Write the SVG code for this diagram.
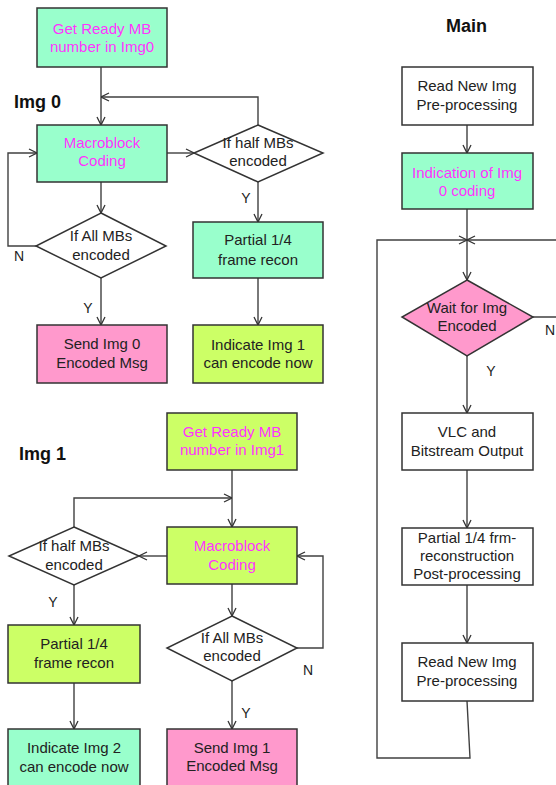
<svg xmlns="http://www.w3.org/2000/svg" width="556" height="785" viewBox="0 0 556 785">
<style>
.box{stroke:#333;stroke-width:1.5}
.mint{fill:#99FFCC}
.lime{fill:#CCFF66}
.pink{fill:#FF99CC}
.white{fill:#FFFFFF}
text{font-family:"Liberation Sans",Arial,sans-serif;font-size:15px;text-anchor:middle;fill:#222}
.mag{fill:#FF33FF}
.title{font-size:18px;font-weight:bold;text-anchor:start;fill:#111}
.lbl{font-size:14px;fill:#222}
.conn path{fill:none;stroke:#404040;stroke-width:1.4;marker-end:url(#arr)}
.conn path.plain{marker-end:none}
</style>
<defs>
<marker id="arr" viewBox="0 0 10 10" refX="10" refY="5" markerWidth="10" markerHeight="10" markerUnits="userSpaceOnUse" orient="auto">
<path d="M2,1 L10,5 L2,9" fill="none" stroke="#333" stroke-width="1.3"/>
</marker>
</defs>
<rect width="556" height="785" fill="#FFFFFF"/>

<text class="title" x="14" y="108">Img 0</text>
<text class="title" x="19" y="460">Img 1</text>
<text class="title" x="446" y="32">Main</text>

<g class="conn" id="connectors">
<path d="M101,67 L101,125"/>
<path d="M258,125 L258,97 L101,97"/>
<path d="M167,153 L194,153"/>
<path d="M101,182 L101,213"/>
<path d="M36,246 L8,246 L8,153 L37,153"/>
<path d="M101,278 L101,325"/>
<path d="M258,182 L258,222"/>
<path d="M258,278 L258,325"/>

<path d="M232,470 L232,527"/>
<path d="M74,527 L74,498 L232,498"/>
<path d="M167,556 L139,556"/>
<path d="M232,584 L232,616"/>
<path d="M297,648 L323,648 L323,556 L297,556"/>
<path d="M232,681 L232,729"/>
<path d="M74,585 L74,625"/>
<path d="M74,683 L74,729"/>

<path d="M467,125 L467,153"/>
<path d="M467,209 L467,280"/>
<path d="M467,701 L470,758 L377,758 L377,240 L467,240"/>
<path d="M533,317 L562,317 L562,240 L467,240"/>
<path d="M467,356 L467,413"/>
<path d="M467,470 L467,528"/>
<path d="M467,585 L467,643"/>
</g>

<g id="labels">
<text class="lbl" x="19" y="261">N</text>
<text class="lbl" x="88" y="313">Y</text>
<text class="lbl" x="246" y="203">Y</text>
<text class="lbl" x="53" y="607">Y</text>
<text class="lbl" x="308" y="675">N</text>
<text class="lbl" x="246" y="718">Y</text>
<text class="lbl" x="550" y="335">N</text>
<text class="lbl" x="491" y="376">Y</text>
</g>

<g id="img0_ready">
<rect class="box mint" x="37" y="8" width="130" height="59"/>
<text class="mag" x="102" y="34">Get Ready MB</text>
<text class="mag" x="102" y="52">number in Img0</text>
</g>
<g id="img0_mb">
<rect class="box mint" x="37" y="125" width="130" height="57"/>
<text class="mag" x="102" y="148">Macroblock</text>
<text class="mag" x="102" y="166">Coding</text>
</g>
<g id="img0_half">
<polygon class="box white" points="258,125 323,153 258,182 194,153"/>
<text x="258" y="148">If half MBs</text>
<text x="258" y="166">encoded</text>
</g>
<g id="img0_all">
<polygon class="box white" points="101,213 166,246 101,278 36,246"/>
<text x="101" y="241">If All MBs</text>
<text x="101" y="260">encoded</text>
</g>
<g id="img0_send">
<rect class="box pink" x="37" y="325" width="130" height="58"/>
<text x="102" y="349">Send Img 0</text>
<text x="102" y="368">Encoded Msg</text>
</g>
<g id="img0_partial">
<rect class="box mint" x="193" y="222" width="130" height="56"/>
<text x="258" y="245">Partial 1/4</text>
<text x="258" y="265">frame recon</text>
</g>
<g id="img0_indicate">
<rect class="box lime" x="193" y="325" width="130" height="58"/>
<text x="258" y="350">Indicate Img 1</text>
<text x="258" y="368">can encode now</text>
</g>

<g id="img1_ready">
<rect class="box lime" x="167" y="413" width="130" height="57"/>
<text class="mag" x="232" y="437">Get Ready MB</text>
<text class="mag" x="232" y="455">number in Img1</text>
</g>
<g id="img1_mb">
<rect class="box lime" x="167" y="527" width="130" height="57"/>
<text class="mag" x="232" y="551">Macroblock</text>
<text class="mag" x="232" y="570">Coding</text>
</g>
<g id="img1_half">
<polygon class="box white" points="74,527 139,556 74,585 9,556"/>
<text x="74" y="551">If half MBs</text>
<text x="74" y="570">encoded</text>
</g>
<g id="img1_all">
<polygon class="box white" points="232,616 297,648 232,681 167,648"/>
<text x="232" y="643">If All MBs</text>
<text x="232" y="661">encoded</text>
</g>
<g id="img1_partial">
<rect class="box lime" x="8" y="625" width="132" height="58"/>
<text x="74" y="649">Partial 1/4</text>
<text x="74" y="668">frame recon</text>
</g>
<g id="img1_indicate">
<rect class="box mint" x="8" y="729" width="132" height="58"/>
<text x="74" y="753">Indicate Img 2</text>
<text x="74" y="772">can encode now</text>
</g>
<g id="img1_send">
<rect class="box pink" x="167" y="729" width="130" height="58"/>
<text x="232" y="753">Send Img 1</text>
<text x="232" y="771">Encoded Msg</text>
</g>

<g id="main_read1">
<rect class="box white" x="402" y="67" width="131" height="58"/>
<text x="467" y="91">Read New Img</text>
<text x="467" y="110">Pre-processing</text>
</g>
<g id="main_indication">
<rect class="box mint" x="402" y="153" width="131" height="56"/>
<text class="mag" x="467" y="178">Indication of Img</text>
<text class="mag" x="467" y="196">0 coding</text>
</g>
<g id="main_wait">
<polygon class="box pink" points="467,280 533,317 467,356 402,317"/>
<text x="467" y="313">Wait for Img</text>
<text x="467" y="331">Encoded</text>
</g>
<g id="main_vlc">
<rect class="box white" x="402" y="413" width="131" height="57"/>
<text x="467" y="437">VLC and</text>
<text x="467" y="456">Bitstream Output</text>
</g>
<g id="main_partial">
<rect class="box white" x="402" y="528" width="131" height="57"/>
<text x="467" y="543">Partial 1/4 frm-</text>
<text x="467" y="561">reconstruction</text>
<text x="467" y="579">Post-processing</text>
</g>
<g id="main_read2">
<rect class="box white" x="402" y="643" width="131" height="58"/>
<text x="467" y="667">Read New Img</text>
<text x="467" y="686">Pre-processing</text>
</g>
</svg>
